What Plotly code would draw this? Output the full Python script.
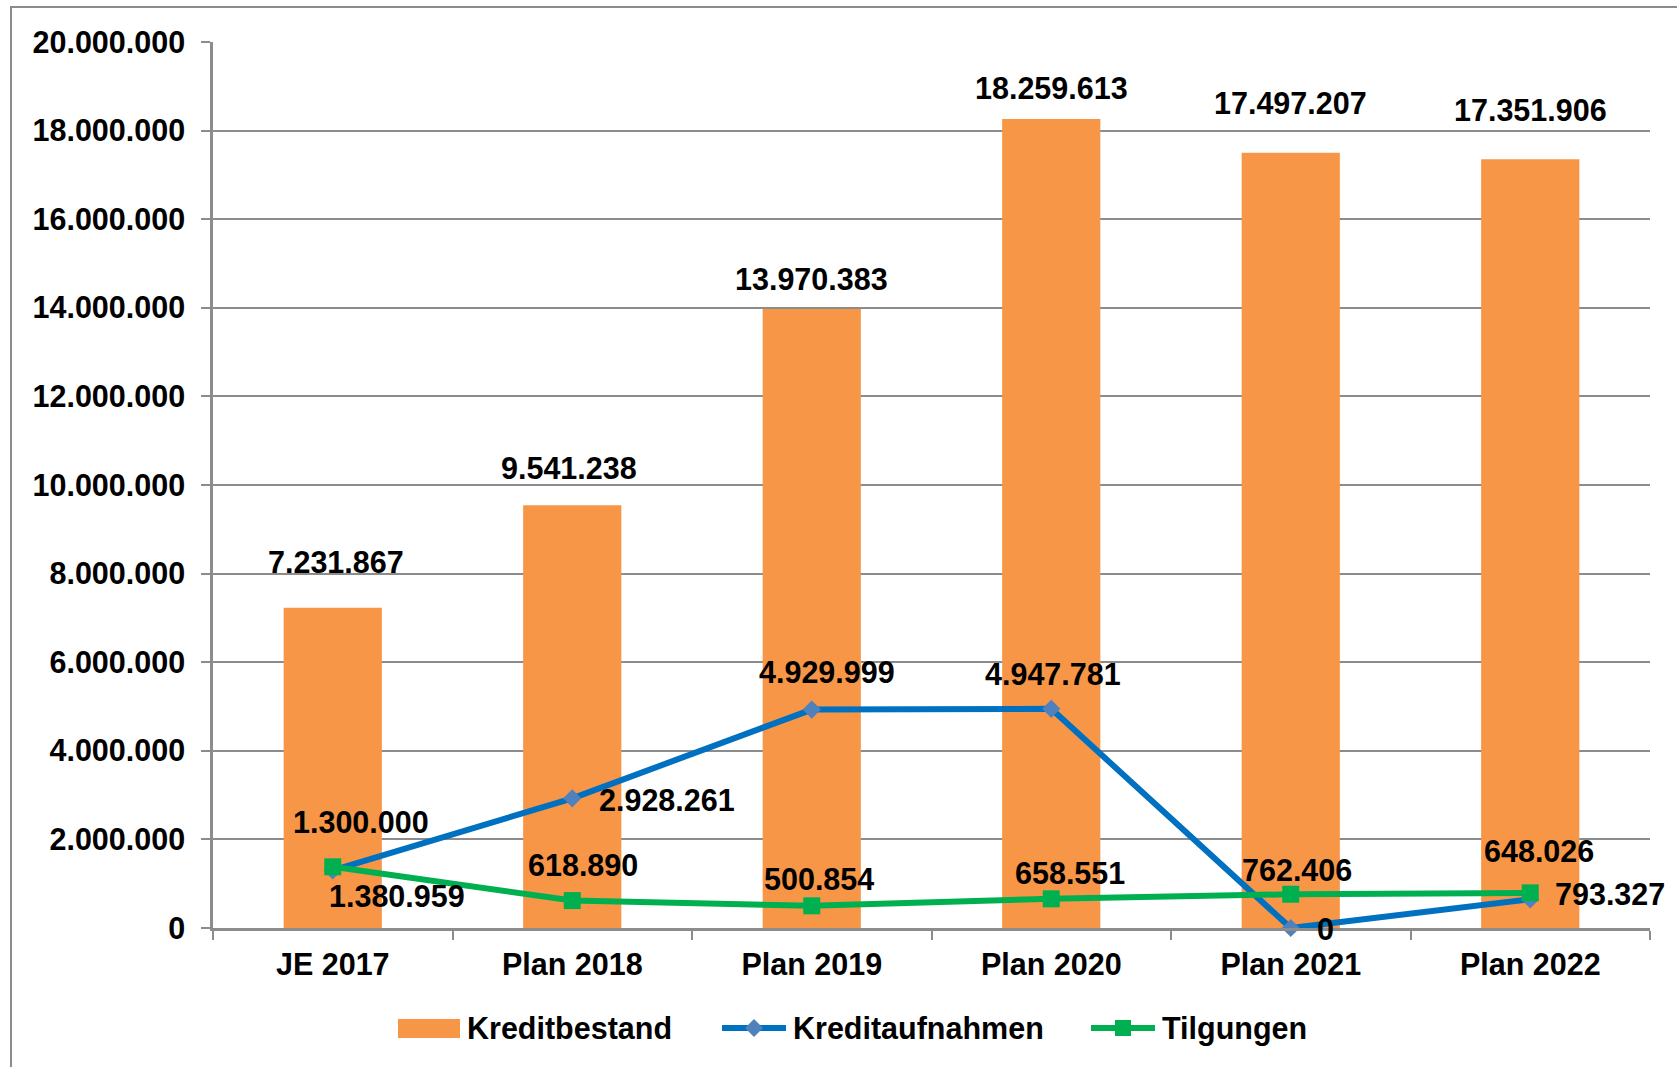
import plotly.graph_objects as go

# ---------------- data ----------------
categories = ["JE 2017", "Plan 2018", "Plan 2019", "Plan 2020", "Plan 2021", "Plan 2022"]
kreditbestand = [7231867, 9541238, 13970383, 18259613, 17497207, 17351906]
kreditaufnahmen = [1300000, 2928261, 4929999, 4947781, 0, 648026]
tilgungen = [1380959, 618890, 500854, 658551, 762406, 793327]
y_ticks = [0, 2000000, 4000000, 6000000, 8000000, 10000000,
           12000000, 14000000, 16000000, 18000000, 20000000]

# label placement (pixel offsets from the data point: dx, dy-up)
bar_label_shift = [(3, 46), (-3, 37), (0, 30), (0, 31), (0, 50), (0, 49)]
auf_label_shift = [(28, 48), (95, -2), (15, 38), (2, 35), (35, -1), (9, 48)]
til_label_shift = [(64, -29), (11, 36), (7, 27), (19, 26), (6, 24), (80, -1)]

# ---------------- styles ----------------
ORANGE = "#F79646"
BLUE = "#0070C0"
BLUE_MK = "#4F81BD"
GREEN = "#00B050"
GRID = "#8C8C8C"
FONT = "Liberation Sans, Arial, sans-serif"
FS = 30.5

W, H = 1677, 1067
L, R, T, B = 213, 27, 42, 139
PW, PH = W - L - R, H - T - B


def fmt(v):
    return f"{v:,}".replace(",", ".")


def px(x):
    return (x - L) / PW


def py(y):
    return (H - B - y) / PH


fig = go.Figure()
fig.add_trace(go.Bar(x=categories, y=kreditbestand, name="Kreditbestand",
                     marker=dict(color=ORANGE, line=dict(width=0)),
                     showlegend=False))
fig.add_trace(go.Scatter(x=categories, y=kreditaufnahmen, name="Kreditaufnahmen",
                         mode="lines+markers",
                         line=dict(color=BLUE, width=6),
                         marker=dict(symbol="diamond", size=14, color=BLUE_MK),
                         showlegend=False, cliponaxis=False))
fig.add_trace(go.Scatter(x=categories, y=tilgungen, name="Tilgungen",
                         mode="lines+markers",
                         line=dict(color=GREEN, width=6),
                         marker=dict(symbol="square", size=17, color=GREEN),
                         showlegend=False, cliponaxis=False))

annotations = []
lab_font = dict(family=FONT, size=FS, color="black")
for series, shifts in ((kreditbestand, bar_label_shift),
                       (kreditaufnahmen, auf_label_shift),
                       (tilgungen, til_label_shift)):
    for c, v, (dx, dy) in zip(categories, series, shifts):
        annotations.append(dict(x=c, y=v, xref="x", yref="y", text=f"<b>{fmt(v)}</b>",
                                showarrow=False, xanchor="center", yanchor="middle",
                                xshift=dx, yshift=dy, font=lab_font))

# custom legend
legend_y = 1028
shapes = [
    # outer chart border
    dict(type="rect", xref="paper", yref="paper",
         x0=px(11), x1=px(W + 20), y0=py(H + 20), y1=py(7),
         line=dict(color="#8C8C8C", width=2), fillcolor="rgba(0,0,0,0)", layer="below"),
    # Kreditbestand swatch
    dict(type="rect", xref="paper", yref="paper",
         x0=px(398), x1=px(460), y0=py(1038), y1=py(1019),
         line=dict(width=0), fillcolor=ORANGE),
    # Kreditaufnahmen line + diamond
    dict(type="line", xref="paper", yref="paper",
         x0=px(722), x1=px(786), y0=py(legend_y), y1=py(legend_y),
         line=dict(color=BLUE, width=6)),
    dict(type="path", xref="paper", yref="paper",
         path=(f"M{px(754 - 9)},{py(legend_y)} L{px(754)},{py(legend_y - 9)} "
               f"L{px(754 + 9)},{py(legend_y)} L{px(754)},{py(legend_y + 9)} Z"),
         line=dict(width=0), fillcolor=BLUE_MK),
    # Tilgungen line + square
    dict(type="line", xref="paper", yref="paper",
         x0=px(1091), x1=px(1155), y0=py(legend_y), y1=py(legend_y),
         line=dict(color=GREEN, width=6)),
    dict(type="rect", xref="paper", yref="paper",
         x0=px(1123 - 8), x1=px(1123 + 8), y0=py(legend_y + 8), y1=py(legend_y - 8),
         line=dict(width=0), fillcolor=GREEN),
]
for xl, name in ((465, "Kreditbestand"), (791, "Kreditaufnahmen"), (1160, "Tilgungen")):
    annotations.append(dict(x=px(xl), y=py(legend_y), xref="paper", yref="paper",
                            text=f"<b>{name}</b>", showarrow=False,
                            xanchor="left", yanchor="middle", font=lab_font))

fig.update_layout(
    width=W, height=H,
    margin=dict(l=L, r=R, t=T, b=B, pad=0),
    paper_bgcolor="white", plot_bgcolor="white",
    separators=",.",
    bargap=0.59,
    font=dict(family=FONT, size=FS, color="black"),
    annotations=annotations,
    shapes=shapes,
    showlegend=False,
)
fig.update_xaxes(type="category", range=[-0.5, len(categories) - 0.5],
                 showline=True, linecolor=GRID, linewidth=2.5,
                 ticks="outside", tickson="boundaries", ticklen=9, tickcolor=GRID,
                 tickwidth=2, showgrid=False,
                 tickfont=dict(family=FONT, size=FS, color="black", weight="bold"),
                 ticklabelstandoff=8)
fig.update_yaxes(range=[0, 20000000], tickvals=y_ticks, tickformat=",d",
                 showline=True, linecolor=GRID, linewidth=2.5,
                 ticks="outside", ticklen=9, tickcolor=GRID, tickwidth=2,
                 showgrid=True, gridcolor=GRID, gridwidth=2, zeroline=False,
                 tickfont=dict(family=FONT, size=FS, color="black", weight="bold"),
                 ticklabelstandoff=10)

fig.write_html(
    "out.html",
    config={"displayModeBar": False},
    post_script="document.body.style.margin='0px';document.body.style.overflow='hidden';",
)
